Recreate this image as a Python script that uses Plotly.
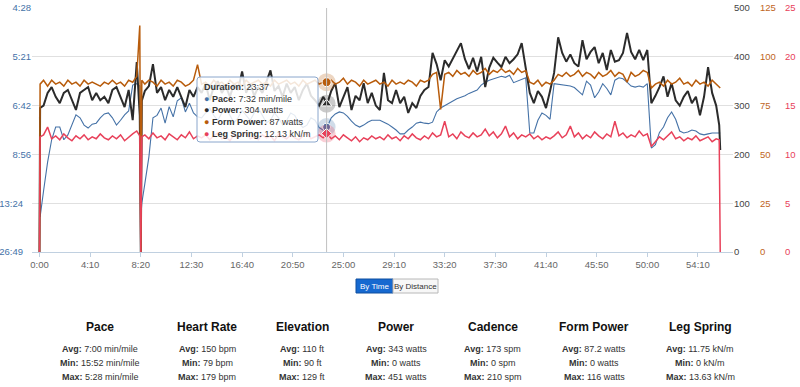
import plotly.graph_objects as go

# ---------------- data ----------------
# sample times in seconds
times = ([0, 3] + list(range(20, 481, 20)) + [495, 500, 505]
         + list(range(520, 3341, 20)) + [3355, 3360])

# pace as speed in m/s (axis labels show min/mile)
pace_ms = ([3.77, 1.72]
           + [2.25, 2.84, 3.30, 3.56, 3.56, 3.30, 3.40, 3.60, 3.81, 3.75, 3.60, 3.54,
              3.62, 3.64, 3.75, 3.83, 3.85, 3.75, 3.60, 3.70, 3.81, 3.89, 4.42, 4.45]
           + [4.40, 1.70, 2.00]
           + [2.40, 2.95, 3.75, 3.80, 3.95, 3.64, 3.98, 3.77, 4.10, 4.16, 3.87, 4.05, 3.85, 3.77]
           + [3.75, 3.85, 3.95, 3.80, 3.70, 3.85, 3.95, 3.80, 3.65, 3.75,
              3.90, 3.80, 3.70, 3.85, 3.95, 3.80, 3.65, 3.70, 3.85, 3.75,
              3.60, 3.70, 3.85, 3.80, 3.65, 3.55, 3.60, 3.75, 3.70, 3.55]
           + [3.50, 3.56, 3.75, 3.83, 3.87, 3.85, 3.78, 3.68, 3.60, 3.56,
              3.60, 3.66, 3.70, 3.70, 3.70, 3.66, 3.62, 3.56, 3.50, 3.42,
              3.42, 3.50, 3.56, 3.64, 3.66, 3.64, 3.63, 3.66, 3.87, 3.95]
           + [4.00, 4.05, 4.10, 4.14, 4.17, 4.20, 4.25, 4.29, 4.32, 4.42,
              4.48, 4.52, 4.55, 4.58, 4.60, 4.58, 4.62, 4.47, 4.50, 4.53,
              4.57, 3.44, 3.44, 3.70, 3.85, 3.80, 3.72, 4.45, 4.44, 4.42]
           + [4.42, 4.40, 4.37, 4.30, 4.22, 4.50, 4.42, 4.16, 4.28, 4.45,
              4.35, 4.22, 4.52, 4.57, 4.55, 4.48, 4.40, 4.38, 4.40, 4.38,
              4.45, 3.13, 3.20, 3.45, 3.56, 3.75, 3.87, 3.72, 3.48, 3.44]
           + [3.46, 3.50, 3.48, 3.42, 3.40, 3.42, 3.44, 3.44]
           + [3.44, 3.44])

power_w = ([0, 295]
           + [300, 326, 338, 318, 305, 326, 332, 311, 291, 326, 332, 338,
              311, 326, 311, 318, 305, 332, 338, 318, 297, 332, 270, 389]
           + [280, 0, 310]
           + [330, 340, 385, 326, 338, 311, 332, 318, 338, 318, 297, 332, 318, 338]
           + [326, 345, 311, 338, 350, 326, 340, 318, 345, 332,
              370, 326, 345, 320, 338, 326, 350, 372, 330, 340,
              318, 345, 326, 338, 311, 332, 345, 320, 311, 300]
           + [318, 304, 330, 346, 297, 318, 338, 291, 320, 311,
              346, 305, 326, 300, 291, 367, 311, 305, 332, 305,
              318, 285, 305, 295, 320, 332, 338, 408, 385, 352]
           + [393, 380, 395, 410, 428, 395, 375, 398, 370, 400,
              338, 378, 398, 388, 379, 400, 387, 395, 405, 428,
              380, 326, 305, 330, 318, 295, 330, 367, 440, 408]
           + [390, 405, 387, 380, 434, 395, 410, 420, 387, 408,
              373, 414, 390, 393, 408, 449, 410, 395, 414, 393,
              414, 305, 320, 338, 360, 318, 346, 311, 300, 318]
           + [330, 305, 318, 280, 318, 379, 326, 300]
           + [260, 209])

form_power_w = ([0, 86]
                + [88, 85, 88, 86, 87, 85, 88, 86, 87, 85, 88, 86,
                   87, 86, 85, 87, 86, 88, 86, 87, 85, 88, 87, 90]
                + [116, 0, 88]
                + [86, 88, 87, 85, 88, 86, 87, 85, 88, 87, 85, 86, 88, 96]
                + [86, 87, 85, 88, 86, 87, 85, 88, 86, 87,
                   85, 88, 86, 87, 88, 86, 87, 85, 88, 86,
                   87, 88, 86, 87, 85, 88, 86, 87, 88, 86]
                + [87, 87, 88, 86, 87, 89, 86, 88, 87, 85,
                   88, 86, 87, 88, 86, 87, 85, 88, 86, 87,
                   86, 88, 87, 85, 88, 87, 88, 91, 92, 73]
                + [91, 92, 90, 93, 91, 92, 90, 93, 91, 92,
                   94, 91, 93, 92, 94, 92, 93, 91, 94, 92,
                   93, 87, 86, 88, 85, 87, 86, 88, 91, 90]
                + [92, 90, 91, 93, 90, 92, 91, 89, 92, 90,
                   91, 93, 90, 92, 91, 87, 92, 90, 91, 93,
                   92, 84, 86, 87, 85, 88, 86, 87, 89, 86]
                + [87, 85, 88, 86, 87, 85, 88, 86]
                + [84, 84])

leg_spring_kn = ([0, 11.8]
                 + [12.0, 12.8, 11.6, 11.9, 11.5, 12.1, 11.7, 11.4, 11.9, 11.6, 12.0, 11.5,
                    11.8, 11.6, 12.1, 11.7, 11.5, 11.9, 11.6, 12.0, 11.4, 11.8, 12.1, 12.4]
                 + [11.9, 0, 11.8]
                 + [12.0, 11.6, 12.2, 11.7, 11.9, 11.5, 12.1, 11.8, 11.5, 12.0, 11.7, 12.3, 11.6, 11.9]
                 + [11.7, 12.0, 11.5, 11.9, 12.2, 11.6, 11.8, 11.4, 12.0, 11.7,
                    11.9, 12.3, 11.6, 11.8, 11.5, 12.0, 11.7, 11.9, 11.4, 12.1,
                    11.8, 11.6, 12.0, 11.7, 11.5, 11.9, 12.2, 11.6, 11.8, 12.0]
                 + [11.7, 12.13, 11.6, 11.9, 11.5, 12.0, 11.7, 11.4, 11.8, 11.3,
                    11.7, 11.5, 11.9, 11.6, 11.8, 11.5, 12.0, 11.6, 11.8, 11.4,
                    11.9, 11.6, 12.1, 11.7, 11.5, 11.9, 11.6, 12.2, 11.8, 12.0]
                 + [13.4, 11.8, 12.1, 11.6, 12.3, 11.9, 11.7, 12.2, 11.8, 12.0,
                    12.6, 11.9, 12.3, 11.7, 12.1, 12.9, 11.8, 12.2, 11.6, 12.0,
                    11.8, 12.1, 11.6, 11.9, 11.5, 11.8, 11.6, 11.9, 12.3, 11.7]
                 + [12.0, 12.9, 11.8, 12.2, 11.6, 12.0, 11.7, 12.3, 11.9, 11.6,
                    12.1, 11.8, 13.4, 11.9, 12.2, 11.7, 12.0, 11.8, 12.4, 11.9,
                    12.1, 10.8, 11.3, 11.8, 11.5, 11.9, 12.3, 11.6, 11.8, 11.4]
                 + [11.7, 11.5, 11.9, 11.4, 11.6, 11.8, 11.3, 11.6]
                 + [11.5, 0])

x_tick_vals = [0, 250, 500, 750, 1000, 1250, 1500, 1750, 2000, 2250, 2500, 2750, 3000, 3250]
x_tick_text = ["0:00", "4:10", "8:20", "12:30", "16:40", "20:50", "25:00", "29:10",
               "33:20", "37:30", "41:40", "45:50", "50:00", "54:10"]
pace_tick_vals = [1, 2, 3, 4, 5, 6]
pace_tick_text = ["26:49", "13:24", "8:56", "6:42", "5:21", "4:28"]
power_ticks = [0, 100, 200, 300, 400, 500]
form_ticks = [0, 25, 50, 75, 100, 125]
leg_ticks = [0, 5, 10, 15, 20, 25]

# hovered point shown in the tooltip
hover_time = 1417
hover_time_label = "23:37"
hover_pace = 3.56
hover_pace_label = "7:32 min/mile"
hover_power = 304
hover_form = 87
hover_leg = 12.13

stat_names = ["Pace", "Heart Rate", "Elevation", "Power", "Cadence", "Form Power", "Leg Spring"]
stat_avg = ["7:00 min/mile", "150 bpm", "110 ft", "343 watts", "173 spm", "87.2 watts", "11.75 kN/m"]
stat_min = ["15:52 min/mile", "79 bpm", "90 ft", "0 watts", "0 spm", "0 watts", "0 kN/m"]
stat_max = ["5:28 min/mile", "179 bpm", "129 ft", "451 watts", "210 spm", "116 watts", "13.63 kN/m"]

# ---------------- styling ----------------
C_PACE = "#4572A7"
C_POWER = "#2b2b2b"
C_FORM = "#b85c0c"
C_LEG = "#e8415a"
FONT = "Liberation Sans, Arial, sans-serif"
TICK_SIZE = 9.5

W, H = 800, 387
ML, MR, MT, MB = 32, 4, 8, 135
PW = W - ML - MR
PH = H - MT - MB
PLOT_RIGHT = 733


def fx(px):
    return (px - ML) / PW


def fy(py):
    return (H - MB - py) / PH


# long labels sit further left in the reference
pace_tick_labels = [t + "\u00a0\u00a0\u00a0" if len(t) > 4 else t for t in pace_tick_text]

fig = go.Figure()
fig.add_trace(go.Scatter(x=times, y=pace_ms, mode="lines", yaxis="y",
                         line=dict(color=C_PACE, width=1.1), name="Pace"))
fig.add_trace(go.Scatter(x=times, y=power_w, mode="lines", yaxis="y2",
                         line=dict(color=C_POWER, width=2), name="Power"))
fig.add_trace(go.Scatter(x=times, y=form_power_w, mode="lines", yaxis="y3",
                         line=dict(color=C_FORM, width=1.5), name="Form Power"))
fig.add_trace(go.Scatter(x=times, y=leg_spring_kn, mode="lines", yaxis="y4",
                         line=dict(color=C_LEG, width=1.5), name="Leg Spring"))

# hover markers with halos
for yv, ax, col, sym, sz in [(hover_pace, "y", C_PACE, "circle", 8),
                             (hover_power, "y2", C_POWER, "triangle-up", 9),
                             (hover_form, "y3", C_FORM, "circle", 9),
                             (hover_leg, "y4", C_LEG, "diamond", 8)]:
    fig.add_trace(go.Scatter(x=[hover_time], y=[yv], mode="markers", yaxis=ax,
                             marker=dict(size=18, color=col, opacity=0.25, line=dict(width=0)),
                             hoverinfo="skip"))
    fig.add_trace(go.Scatter(x=[hover_time], y=[yv], mode="markers", yaxis=ax,
                             marker=dict(size=sz, color=col, symbol=sym,
                                         line=dict(color="white", width=1)),
                             hoverinfo="skip"))

dom_end = fx(PLOT_RIGHT)
fig.update_layout(
    width=W, height=H,
    margin=dict(l=ML, r=MR, t=MT, b=MB, autoexpand=False),
    paper_bgcolor="white", plot_bgcolor="white",
    showlegend=False,
    font=dict(family=FONT, size=10, color="#666"),
    xaxis=dict(domain=[0, dom_end], range=[-37, 3423], tickmode="array",
               tickvals=x_tick_vals, ticktext=x_tick_text, showgrid=False,
               zeroline=False, showline=True, linecolor="#C0D0E0", linewidth=1,
               ticks="outside", ticklen=4, tickcolor="#C0D0E0", automargin=False,
               tickfont=dict(size=TICK_SIZE, color="#666")),
    yaxis=dict(range=[1, 6], tickmode="array", tickvals=pace_tick_vals,
               ticktext=pace_tick_labels, showgrid=True, gridcolor="#E0E0E0",
               zeroline=False, showline=False, ticks="", automargin=False,
               tickfont=dict(size=TICK_SIZE, color=C_PACE)),
    yaxis2=dict(overlaying="y", side="right", anchor="free", position=dom_end,
                range=[0, 500], tickmode="array", tickvals=power_ticks,
                showgrid=False, zeroline=False, showline=False, automargin=False,
                tickfont=dict(size=TICK_SIZE, color="#444")),
    yaxis3=dict(overlaying="y", side="right", anchor="free", position=fx(759),
                range=[0, 125], tickmode="array", tickvals=form_ticks,
                showgrid=False, zeroline=False, showline=False, automargin=False,
                tickfont=dict(size=TICK_SIZE, color="#c0651c")),
    yaxis4=dict(overlaying="y", side="right", anchor="free", position=fx(784),
                range=[0, 25], tickmode="array", tickvals=leg_ticks,
                showgrid=False, zeroline=False, showline=False, automargin=False,
                tickfont=dict(size=TICK_SIZE, color=C_LEG)),
)

shapes = []
# crosshair
shapes.append(dict(type="line", xref="x", yref="paper", x0=hover_time, x1=hover_time,
                   y0=0, y1=1, line=dict(color="#C0C0C0", width=1), layer="above"))

# tooltip box (rounded)
tx0, tx1, ty0, ty1, r = 197, 318, 77, 142, 3
path = (f"M {fx(tx0 + r)},{fy(ty0)} L {fx(tx1 - r)},{fy(ty0)} Q {fx(tx1)},{fy(ty0)} {fx(tx1)},{fy(ty0 + r)} "
        f"L {fx(tx1)},{fy(ty1 - r)} Q {fx(tx1)},{fy(ty1)} {fx(tx1 - r)},{fy(ty1)} "
        f"L {fx(tx0 + r)},{fy(ty1)} Q {fx(tx0)},{fy(ty1)} {fx(tx0)},{fy(ty1 - r)} "
        f"L {fx(tx0)},{fy(ty0 + r)} Q {fx(tx0)},{fy(ty0)} {fx(tx0 + r)},{fy(ty0)} Z")
shapes.append(dict(type="path", xref="paper", yref="paper", path=path,
                   fillcolor="rgba(255,255,255,0.85)", line=dict(color="#8aa6cc", width=1),
                   layer="above"))

# buttons
shapes.append(dict(type="rect", xref="paper", yref="paper", x0=fx(356), x1=fx(393),
                   y0=fy(279), y1=fy(293), fillcolor="#1669d0", line=dict(color="#0e4f9e", width=1)))
shapes.append(dict(type="rect", xref="paper", yref="paper", x0=fx(393), x1=fx(438),
                   y0=fy(279), y1=fy(293), fillcolor="#f7f7f7", line=dict(color="#b8b8b8", width=1)))
fig.update_layout(shapes=shapes)

annotations = []
tip = (f"<b>Duration:</b> {hover_time_label}"
       f"<br><span style='color:{C_PACE}'>●</span> <b>Pace:</b> {hover_pace_label}"
       f"<br><span style='color:{C_POWER}'>●</span> <b>Power:</b> {hover_power} watts"
       f"<br><span style='color:{C_FORM}'>●</span> <b>Form Power:</b> {hover_form} watts"
       f"<br><span style='color:{C_LEG}'>●</span> <b>Leg Spring:</b> {hover_leg} kN/m")
annotations.append(dict(xref="paper", yref="paper", x=fx(202), y=fy(80), xanchor="left",
                        yanchor="top", align="left", showarrow=False, text=tip,
                        font=dict(family=FONT, size=9, color="#333")))
annotations.append(dict(xref="paper", yref="paper", x=fx(374.5), y=fy(286), showarrow=False,
                        xanchor="center", yanchor="middle",
                        text="By Time", font=dict(family=FONT, size=8, color="white")))
annotations.append(dict(xref="paper", yref="paper", x=fx(415.5), y=fy(286), showarrow=False,
                        xanchor="center", yanchor="middle",
                        text="By Distance", font=dict(family=FONT, size=8, color="#333")))

col_x = [100, 207, 302, 396, 493, 594, 700]
for cx, name, a, mn, mx in zip(col_x, stat_names, stat_avg, stat_min, stat_max):
    annotations.append(dict(xref="paper", yref="paper", x=fx(cx), y=fy(327), showarrow=False,
                            xanchor="center", yanchor="middle",
                            text=f"<b>{name}</b>", font=dict(family=FONT, size=12, color="#111")))
    for lbl, val, yy in [("Avg", a, 349), ("Min", mn, 363), ("Max", mx, 377)]:
        annotations.append(dict(xref="paper", yref="paper", x=fx(cx), y=fy(yy), showarrow=False,
                                xanchor="center", yanchor="middle",
                                text=f"<b>{lbl}:</b> {val}",
                                font=dict(family=FONT, size=9, color="#333")))
fig.update_layout(annotations=annotations)

fig.write_html("out.html", config={"displayModeBar": False},
               post_script="document.body.style.margin='0';")
